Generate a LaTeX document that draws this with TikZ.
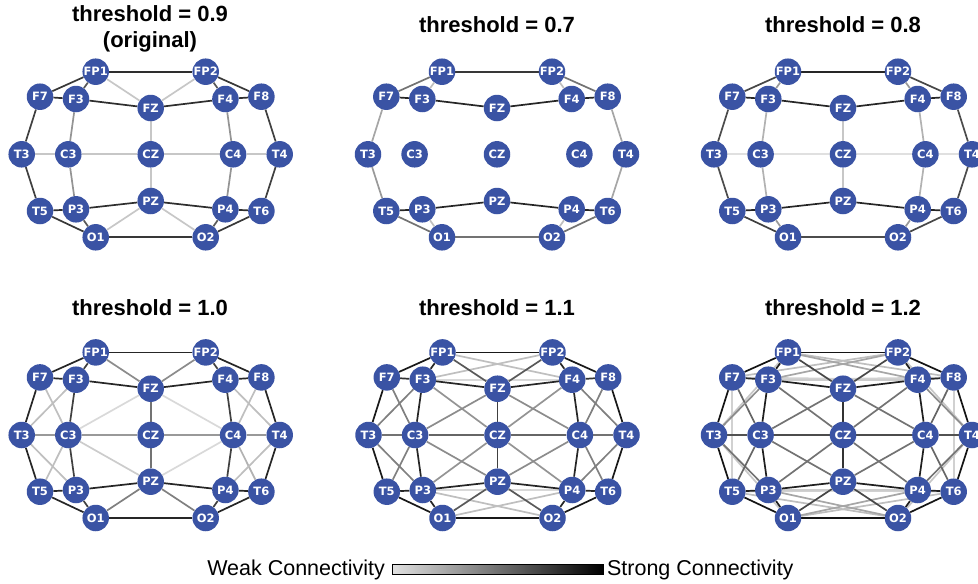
\documentclass[tikz,border=0pt]{standalone}
\usepackage{fontspec}
\setmainfont{Liberation Sans}
\newfontfamily\nodefont{DejaVu Sans}
\usetikzlibrary{backgrounds}
\definecolor{nodeblue}{HTML}{3A53A4}
\tikzset{
  eeg/.style={circle, fill=nodeblue, minimum size=26.5pt, inner sep=0pt, text=white,
    font=\nodefont\bfseries\fontsize{11.5}{11.5}\selectfont},
  edge/.style={line width=1.7pt},
  ttl/.style={font=\bfseries\fontsize{22}{26}\selectfont, align=center},
  lgd/.style={font=\fontsize{21.5}{25}\selectfont},
}
\newcommand{\eegpanel}[3]{%
  \begin{scope}[shift={(#2,#3)}]
    \node[eeg] (#1FP1) at (95.7,71.7) {FP1};
    \node[eeg] (#1FP2) at (205.7,71.7) {FP2};
    \node[eeg] (#1F7) at (40,96.7) {F7};
    \node[eeg] (#1F3) at (76,99) {F3};
    \node[eeg] (#1FZ) at (150.7,108) {FZ};
    \node[eeg] (#1F4) at (225.4,99) {F4};
    \node[eeg] (#1F8) at (261.4,96.7) {F8};
    \node[eeg] (#1T3) at (21.7,154.3) {T3};
    \node[eeg] (#1C3) at (68.3,154.3) {C3};
    \node[eeg] (#1CZ) at (150.7,154.3) {CZ};
    \node[eeg] (#1C4) at (233.1,154.3) {C4};
    \node[eeg] (#1T4) at (279.7,154.3) {T4};
    \node[eeg] (#1T5) at (40,211) {T5};
    \node[eeg] (#1P3) at (76,209.3) {P3};
    \node[eeg] (#1PZ) at (150.7,201) {PZ};
    \node[eeg] (#1P4) at (225.4,209.3) {P4};
    \node[eeg] (#1T6) at (261.4,211) {T6};
    \node[eeg] (#1O1) at (95.7,237.3) {O1};
    \node[eeg] (#1O2) at (205.7,237.3) {O2};
  \end{scope}}
\newcommand{\eegedges}[2]{%
  \begin{pgfonlayer}{background}
    \foreach \a/\b/\p in {#2} {\draw[edge, draw=black!\p] (#1\a) -- (#1\b);}
  \end{pgfonlayer}}
\begin{document}
\begin{tikzpicture}[x=1pt,y=-1pt]
\clip (0,0) rectangle (978,584);
% panels
\eegpanel{a}{0}{0}
\eegpanel{b}{346.3}{0}
\eegpanel{c}{692.3}{0}
\eegpanel{d}{0}{280.7}
\eegpanel{e}{346.8}{280.7}
\eegpanel{f}{692.3}{280.7}
% titles
\node[ttl] (ta) at (150,28.5) {threshold = 0.9\\(original)};
\node[ttl] (tb) at (497,25) {threshold = 0.7};
\node[ttl] (tc) at (843,25) {threshold = 0.8};
\node[ttl] (td) at (150,308) {threshold = 1.0};
\node[ttl] (te) at (497,308) {threshold = 1.1};
\node[ttl] (tf) at (843,308) {threshold = 1.2};
% panel a: 0.9
\eegedges{a}{FP1/FZ/22,FP2/FZ/22,FZ/CZ/22,CZ/PZ/22,T3/C3/22,C3/CZ/22,CZ/C4/22,C4/T4/22,PZ/O1/22,PZ/O2/22,
F3/C3/42,C3/P3/42,F4/C4/42,C4/P4/42,
FP1/FP2/82,FP1/F7/78,FP1/F3/65,F7/F3/82,F3/FZ/82,FZ/F4/82,F4/F8/82,FP2/F8/78,FP2/F4/65,F7/T3/75,T3/T5/75,T5/P3/82,T5/O1/78,P3/O1/65,P3/PZ/82,PZ/P4/82,P4/T6/82,T6/O2/78,P4/O2/65,O1/O2/78,F8/T4/75,T4/T6/75}
% panel b: 0.7
\eegedges{b}{FP1/F3/25,FP2/F4/25,P3/O1/25,P4/O2/25,F7/T3/35,T3/T5/40,F8/T4/35,T4/T6/35,
FP1/F7/55,FP2/F8/55,T5/O1/55,T6/O2/55,O1/O2/55,
FP1/FP2/78,F7/F3/85,F3/FZ/85,FZ/F4/85,F4/F8/85,T5/P3/85,P3/PZ/85,PZ/P4/85,P4/T6/85}
% panel c: 0.8
\eegedges{c}{T3/C3/12,C3/CZ/12,CZ/C4/12,C4/T4/12,FZ/CZ/22,CZ/PZ/22,F3/C3/30,C3/P3/30,F4/C4/30,C4/P4/30,
FP1/F3/40,FP2/F4/40,P3/O1/40,P4/O2/40,
FP1/F7/72,FP2/F8/72,F7/T3/70,T3/T5/70,T5/O1/75,T6/O2/72,O1/O2/70,F8/T4/70,T4/T6/70,
FP1/FP2/85,F7/F3/85,F3/FZ/85,FZ/F4/85,F4/F8/85,T5/P3/85,P3/PZ/85,PZ/P4/85,P4/T6/85}
% panel d: 1.0
\eegedges{d}{FZ/C3/15,FZ/C4/15,C3/PZ/20,C4/PZ/15,
F7/C3/25,F3/T3/25,T3/P3/25,C3/T5/25,F8/C4/25,F4/T4/25,C4/T6/30,T4/P4/25,
T3/C3/40,C3/CZ/40,CZ/C4/40,C4/T4/40,FP1/FZ/45,FP2/FZ/45,PZ/O1/50,PZ/O2/50,FZ/CZ/55,CZ/PZ/55,
F3/C3/75,C3/P3/75,F4/C4/75,C4/P4/75,FP1/F3/75,FP2/F4/75,P3/O1/75,P4/O2/75,
FP1/FP2/85,FP1/F7/85,F7/F3/85,F3/FZ/85,FZ/F4/85,F4/F8/85,FP2/F8/85,F7/T3/85,T3/T5/85,T5/P3/85,T5/O1/85,P3/PZ/85,PZ/P4/85,P4/T6/85,T6/O2/85,O1/O2/85,F8/T4/85,T4/T6/85}
% panel e: 1.1
\eegedges{e}{F3/F4/15,P3/P4/15,FP1/F4/25,FP2/F3/25,P3/O2/25,P4/O1/25,
F3/CZ/42,F4/CZ/42,CZ/P3/42,CZ/P4/42,FZ/C3/45,FZ/C4/45,C3/PZ/45,C4/PZ/45,
F7/C3/50,F3/T3/50,T3/P3/50,C3/T5/50,F8/C4/50,F4/T4/50,C4/T6/50,T4/P4/50,
T3/C3/55,C4/T4/55,C3/CZ/60,CZ/C4/60,FP1/FZ/65,FP2/FZ/65,PZ/O1/65,PZ/O2/65,FZ/CZ/75,CZ/PZ/75,
F7/F3/80,F4/F8/80,F3/C3/85,C3/P3/85,F4/C4/85,C4/P4/85,FP1/F3/85,FP2/F4/85,P3/O1/85,P4/O2/85,
F3/FZ/85,FZ/F4/85,T5/P3/85,P3/PZ/85,PZ/P4/85,P4/T6/85,
FP1/FP2/90,FP1/F7/90,FP2/F8/90,F7/T3/90,T3/T5/90,T5/O1/90,T6/O2/90,O1/O2/90,F8/T4/90,T4/T6/90}
% panel f: 1.2
\eegedges{f}{F7/T5/18,F8/T6/18,F7/F4/18,F3/F8/18,T5/P4/18,T6/P3/18,F3/F4/20,P3/P4/20,
FP1/F8/25,FP2/F7/25,T5/O2/25,T6/O1/25,FP1/T3/22,FP2/T4/22,T3/O1/22,T4/O2/22,
FP1/F4/35,FP2/F3/35,P3/O2/35,P4/O1/35,
F3/CZ/55,F4/CZ/55,CZ/P3/55,CZ/P4/55,FZ/C3/55,FZ/C4/55,C3/PZ/55,C4/PZ/55,
F7/C3/60,F3/T3/45,T3/P3/55,C3/T5/60,F8/C4/60,F4/T4/45,C4/T6/60,T4/P4/55,
T3/C3/68,C4/T4/68,C3/CZ/70,CZ/C4/70,FP1/FZ/72,FP2/FZ/72,PZ/O1/72,PZ/O2/72,FZ/CZ/80,CZ/PZ/80,
F7/F3/85,F4/F8/85,F3/C3/88,C3/P3/88,F4/C4/88,C4/P4/88,FP1/F3/88,FP2/F4/88,P3/O1/88,P4/O2/88,
F3/FZ/88,FZ/F4/88,T5/P3/88,P3/PZ/88,PZ/P4/88,P4/T6/88,
FP1/FP2/92,FP1/F7/92,FP2/F8/92,F7/T3/92,T3/T5/92,T5/O1/92,T6/O2/92,O1/O2/92,F8/T4/92,T4/T6/92}
% colour bar
\node[draw=black, line width=0.8pt, minimum width=211pt, minimum height=10pt, inner sep=0pt,
  left color=black!12, right color=black] (cbar) at (498,569.5) {};
\node[lgd, anchor=east, inner sep=0pt] (weak) at ([xshift=-7pt]cbar.west) {Weak Connectivity};
\node[lgd, anchor=west, inner sep=0pt] (strong) at ([xshift=3pt]cbar.east) {Strong Connectivity};
\end{tikzpicture}
\end{document}
